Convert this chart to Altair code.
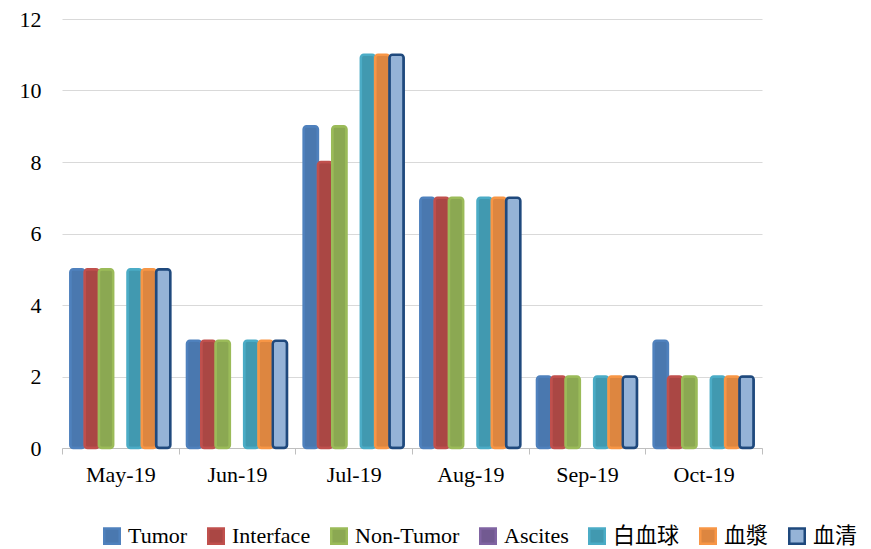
import altair as alt
import pandas as pd

months = ["May-19", "Jun-19", "Jul-19", "Aug-19", "Sep-19", "Oct-19"]
series = ["Tumor", "Interface", "Non-Tumor", "Ascites", "白血球", "血漿", "血清"]

tumor = [5, 3, 9, 7, 2, 3]
interface = [5, 3, 8, 7, 2, 2]
non_tumor = [5, 3, 9, 7, 2, 2]
ascites = [0, 0, 0, 0, 0, 0]
wbc = [5, 3, 11, 7, 2, 2]
plasma = [5, 3, 11, 7, 2, 2]
serum = [5, 3, 11, 7, 2, 2]

fills = ["#4A78AF", "#AA4744", "#8BA852", "#725A91", "#4199B0", "#DD8640", "#95B3D7"]
strokes = ["#4F81BD", "#C0504D", "#9BBB59", "#8064A2", "#4BACC6", "#F79646", "#1F497D"]

values = [tumor, interface, non_tumor, ascites, wbc, plasma, serum]
rows = []
for i, m in enumerate(months):
    for s, v in zip(series, values):
        rows.append({"month": m, "series": s, "value": v[i]})
df = pd.DataFrame(rows)

FONT = "'Liberation Serif', 'Noto Sans CJK SC', serif"

legend = alt.Legend(
    title=None, orient="none", direction="horizontal", columns=7,
    legendX=39, legendY=506, symbolType="square", symbolSize=240,
    symbolStrokeWidth=2.5, labelFont=FONT, labelFontSize=22,
    labelColor="#000000", columnPadding=15, labelOffset=5,
)

chart = alt.Chart(df).transform_filter(alt.datum.value > 0).mark_bar(
    strokeWidth=2.5, cornerRadius=3
).encode(
    x=alt.X("month:N", sort=months,
            scale=alt.Scale(paddingInner=0, paddingOuter=0),
            axis=alt.Axis(title=None, labelAngle=0, tickBand="extent",
                          labelFont=FONT, labelFontSize=22, labelColor="#000000",
                          domainColor="#BFBFBF", tickColor="#BFBFBF", tickSize=6,
                          labelPadding=10, grid=False)),
    xOffset=alt.XOffset("series:N", sort=series,
                        scale=alt.Scale(domain=series, paddingOuter=0.58, paddingInner=0)),
    y=alt.Y("value:Q", scale=alt.Scale(domain=[0, 12]),
            axis=alt.Axis(title=None, values=[0, 2, 4, 6, 8, 10, 12], domain=False,
                          ticks=False, grid=True, gridColor="#D9D9D9", gridWidth=1,
                          labelFont=FONT, labelFontSize=22, labelColor="#000000",
                          labelPadding=21)),
    fill=alt.Fill("series:N", sort=series,
                  scale=alt.Scale(domain=series, range=fills), legend=legend),
    stroke=alt.Stroke("series:N", sort=series,
                      scale=alt.Scale(domain=series, range=strokes), legend=legend),
).properties(
    width=700, height=429,
    autosize=alt.AutoSizeParams(type="none"),
    padding={"left": 54, "top": 11, "right": 101, "bottom": 99},
).configure_view(stroke=None)

chart.save("out.html", embed_options={"renderer": "svg", "actions": False})
